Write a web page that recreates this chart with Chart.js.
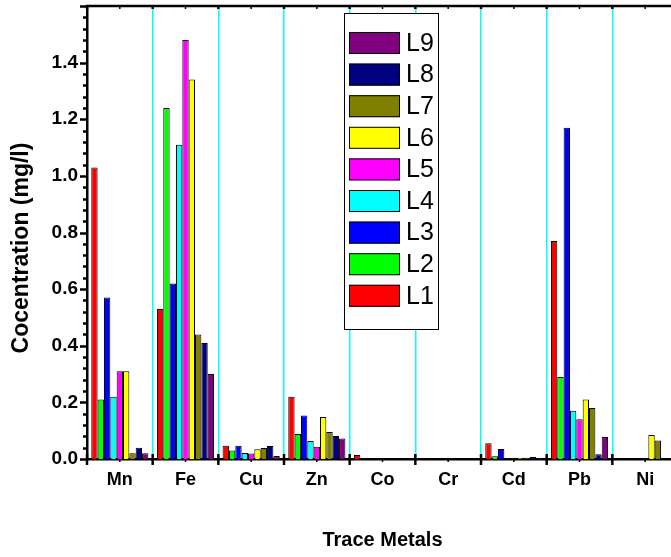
<!DOCTYPE html>
<html>
<head>
<meta charset="utf-8">
<script src="https://cdn.jsdelivr.net/npm/chart.js@4.4.1/dist/chart.umd.min.js"></script>
<style>
html, body { margin: 0; padding: 0; background: #fff; overflow: hidden; }
#wrap { width: 671px; height: 557px; overflow: hidden; }
</style>
</head>
<body>
<div id="wrap"><canvas id="chart" width="700" height="557"></canvas></div>
<script>
// values (mg/l), one array per sampling location
const metals = ["Mn", "Fe", "Cu", "Zn", "Co", "Cr", "Cd", "Pb", "Ni"];
const L1 = [1.03, 0.53, 0.047, 0.220, 0.014, 0, 0.056, 0.77, 0];
const L2 = [0.21, 1.24, 0.030, 0.088, 0, 0, 0.010, 0.29, 0];
const L3 = [0.57, 0.62, 0.047, 0.154, 0, 0, 0.035, 1.17, 0];
const L4 = [0.22, 1.11, 0.021, 0.064, 0, 0, 0.001, 0.17, 0];
const L5 = [0.31, 1.48, 0.019, 0.043, 0, 0, 0.001, 0.14, 0];
const L6 = [0.31, 1.34, 0.034, 0.148, 0, 0, 0.004, 0.21, 0.085];
const L7 = [0.02, 0.44, 0.039, 0.095, 0, 0, 0.004, 0.18, 0.065];
const L8 = [0.04, 0.41, 0.046, 0.081, 0, 0, 0.007, 0.017, 0];
const L9 = [0.02, 0.30, 0.011, 0.072, 0, 0, 0.004, 0.078, 0];
const seriesNames = ["L1", "L2", "L3", "L4", "L5", "L6", "L7", "L8", "L9"];
const seriesValues = [L1, L2, L3, L4, L5, L6, L7, L8, L9];
const seriesColors = ["#FF0000", "#00FF00", "#0000FF", "#00FFFF", "#FF00FF",
                      "#FFFF00", "#808000", "#000080", "#800080"];
const yMax = 1.6;
const yStep = 0.2;
const yMinorStep = 0.04;
const yTitle = "Cocentration (mg/l)";

const FONT = "'Liberation Sans', Arial, sans-serif";

const line = (ctx, x1, y1, x2, y2) => {
    ctx.beginPath();
    ctx.moveTo(x1, y1);
    ctx.lineTo(x2, y2);
    ctx.stroke();
};

// frame, minor ticks, y title and the boxed legend
const decor = {
    id: "decor",
    afterDraw(chart) {
        const { ctx, chartArea: a, scales: { x, y } } = chart;
        ctx.save();
        ctx.strokeStyle = "#000";

        ctx.lineWidth = 2.5;
        line(ctx, a.left - 1, a.top, a.right, a.top);

        // y ticks, major and minor, outward
        for (let i = 0; i * yMinorStep <= yMax + 1e-9; i++) {
            const v = i * yMinorStep;
            const py = Math.round(y.getPixelForValue(v)) + 0.5;
            const major = i % 5 === 0;
            ctx.lineWidth = 2.5;
            line(ctx, a.left - (major ? 7 : 4), py, a.left, py);
        }

        // x ticks at category edges (crossing) and centres
        const half = (x.getPixelForValue(1) - x.getPixelForValue(0)) / 2;
        ctx.lineWidth = 2.5;
        for (let i = 0; i <= metals.length; i++) {
            const px = x.getPixelForValue(i) - half;
            line(ctx, px, a.bottom - 5, px, a.bottom + 6);
            line(ctx, px, a.top, px, a.top + 3);
        }
        ctx.lineWidth = 1.5;
        for (let i = 0; i < metals.length; i++) {
            const px = x.getPixelForValue(i);
            line(ctx, px, a.bottom, px, a.bottom + 3);
            line(ctx, px, a.top, px, a.top + 3);
        }

        // y title
        ctx.save();
        ctx.translate(22, 248);
        ctx.rotate(-Math.PI / 2);
        ctx.fillStyle = "#000";
        ctx.font = "bold 23px " + FONT;
        ctx.textAlign = "center";
        ctx.textBaseline = "middle";
        ctx.fillText(yTitle, 0, 0);
        ctx.restore();

        // legend box
        const bx = 344, by = 13, bw = 94, bh = 316;
        ctx.fillStyle = "#fff";
        ctx.fillRect(bx, by, bw, bh);
        ctx.lineWidth = 1;
        ctx.strokeRect(bx + 0.5, by + 0.5, bw, bh);
        ctx.font = "25px " + FONT;
        ctx.textBaseline = "middle";
        ctx.textAlign = "left";
        const ds = chart.data.datasets;
        for (let k = ds.length - 1, row = 0; k >= 0; k--, row++) {
            const cy = 43 + row * 31.6;
            ctx.fillStyle = ds[k].backgroundColor;
            ctx.fillRect(349, cy - 11, 51, 22);
            ctx.strokeRect(349.5, cy - 10.5, 50, 21);
            ctx.fillStyle = "#000";
            ctx.fillText(ds[k].label, 406, cy + 1);
        }
        ctx.restore();
    }
};

new Chart(document.getElementById("chart"), {
    type: "bar",
    data: {
        labels: metals,
        datasets: seriesNames.map((name, k) => ({
            label: name,
            data: seriesValues[k],
            backgroundColor: seriesColors[k],
            borderColor: "#000",
            borderWidth: 1,
            categoryPercentage: 0.87,
            barPercentage: 1.0
        }))
    },
    options: {
        responsive: false,
        animation: false,
        layout: { padding: { top: 6, right: 22, left: 0, bottom: 0 } },
        plugins: {
            legend: { display: false },
            tooltip: { enabled: false }
        },
        scales: {
            x: {
                offset: true,
                grid: {
                    offset: true,
                    color: "#00FFFF",
                    lineWidth: 1.5,
                    drawTicks: false
                },
                border: { color: "#000", width: 2.5 },
                ticks: {
                    color: "#000",
                    padding: 10,
                    font: { family: FONT, size: 18, weight: "bold" }
                },
                title: {
                    display: true,
                    text: "Trace Metals",
                    color: "#000",
                    padding: { top: 20, bottom: 5 },
                    font: { family: FONT, size: 20, weight: "bold" }
                },
                afterFit: (scale) => {
                    scale.height = 98;
                    scale.paddingLeft = 0;
                    scale.paddingRight = 0;
                }
            },
            y: {
                min: 0,
                max: yMax,
                grid: { display: false, drawTicks: false },
                border: { color: "#000", width: 2.5 },
                ticks: {
                    stepSize: yStep,
                    color: "#000",
                    padding: 9,
                    font: { family: FONT, size: 19, weight: "bold" },
                    callback: (v) => (v >= yMax - 1e-9 ? "" : v.toFixed(1))
                },
                afterFit: (scale) => {
                    scale.width = 87;
                    scale.paddingTop = 0;
                    scale.paddingBottom = 0;
                }
            }
        }
    },
    plugins: [decor]
});
</script>
</body>
</html>
